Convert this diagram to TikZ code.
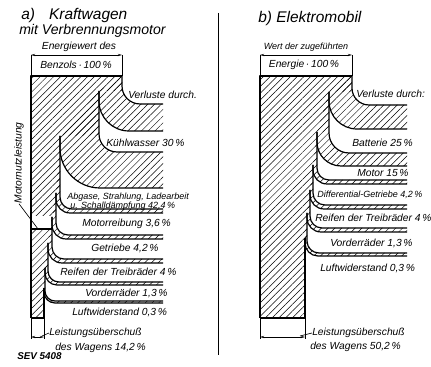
\documentclass[tikz,border=0pt]{standalone}
\usepackage{fontspec}
\setmainfont{Liberation Sans}
\usetikzlibrary{patterns.meta,arrows.meta}
\tikzstyle{diagram} = [x=0.25mm, y=-0.25mm]
\tikzstyle{hatchFill} = [pattern={Lines[angle=45, distance=3.4pt, line width=0.35pt]}]
\tikzstyle{bandLine} = [line width=0.85pt, line join=round]
\tikzstyle{thinLine} = [line width=0.45pt]
\tikzstyle{dimLine} = [line width=0.45pt, {Stealth[length=3pt, width=1.6pt]}-{Stealth[length=3pt, width=1.6pt]}]
\tikzstyle{titleText} = [font=\itshape\fontsize{11}{13}\selectfont, inner sep=0pt, anchor=west]
\tikzstyle{subtitleText} = [font=\itshape\fontsize{10}{11}\selectfont, inner sep=0pt, anchor=west]
\tikzstyle{labelText} = [font=\itshape\fontsize{7.3}{8}\selectfont, inner sep=0pt, anchor=west]
\tikzstyle{smallText} = [font=\itshape\fontsize{6.4}{7}\selectfont, inner sep=0pt, anchor=west]
\tikzstyle{sevText} = [font=\bfseries\itshape\fontsize{7}{8}\selectfont, inner sep=0pt, anchor=west]
\newcommand{\outerEdge}[5]{(#1,#2) -- (#1,#3-#4) .. controls (#1,#3-0.448*#4) and (#1+0.448*#4,#3) .. (#1+#4,#3) -- (#5,#3)}
\newcommand{\lossBand}[9]{
  \fill [hatchFill] \outerEdge{#1}{#2}{#5}{#7}{#9} -- (#9,#6) -- (#3+#8,#6) .. controls (#3+0.448*#8,#6) and (#3,#6-0.448*#8) .. (#3,#6-#8) -- (#3,#4) -- cycle;
  \draw [bandLine] \outerEdge{#1}{#2}{#5}{#7}{#9};
  \draw [bandLine] \outerEdge{#3}{#4}{#6}{#8}{#9};
}

\begin{document}
\begin{tikzpicture}[diagram]
  \useasboundingbox (0,0) rectangle (431,367);

  \fill [hatchFill] (31,76) -- (122,76) -- (122,91) -- (99,91) -- (99,136) -- (60,136) -- (60,193) -- (56,193) -- (56,217) -- (52,217) -- (52,243) -- (48,243) -- (48,268) -- (45,268) -- (45,288) -- (44,288) -- (44,318) -- (31,318) -- cycle;
  \lossBand{122}{76}{99}{91}{104}{131}{18}{30}{163}
  \lossBand{99}{91}{60}{136}{152}{188}{18}{40}{163}
  \lossBand{60}{136}{56}{193}{209}{213}{12}{14}{163}
  \lossBand{56}{193}{52}{217}{235}{239}{12}{14}{163}
  \lossBand{52}{217}{48}{243}{259}{263}{12}{14}{163}
  \lossBand{48}{243}{45}{268}{282}{285}{11}{12}{163}
  \lossBand{45}{268}{44}{288}{301}{303}{10}{11}{163}
  \fill [white] (31.8,216) rectangle (51.2,228.5);
  \draw [bandLine] (31,318) -- (31,76) -- (122,76);
  \draw [bandLine] (44,288) -- (44,318) -- (31,318);
  \draw [bandLine] (31,229) -- (52,229);
  \draw [thinLine] (31,55) -- (31,76) (122,55) -- (122,76);
  \draw [thinLine] (31,318) -- (31,339) (44,318) -- (44,339);
  \draw [dimLine] (31,55) -- (122,55);
  \draw [dimLine] (31,337) -- (44,337);

  \node [titleText] (titleA) at (21,16) {a)\hspace{10pt}Kraftwagen};
  \node [subtitleText] (subA) at (19,31) {mit Verbrennungsmotor};
  \node [labelText, anchor=center] (energyA) at (79,47) {Energiewert des};
  \node [labelText, anchor=center] (benzolA) at (76,65) {Benzols\,·\,100\,\%};
  \node [labelText] (lossA) at (128,95) {Verluste durch.};
  \node [labelText] (coolA) at (106,143) {Kühlwasser 30\,\%};
  \node [smallText] (exhaustA) at (67,197) {Abgase, Strahlung, Ladearbeit};
  \node [smallText] (mufflerA) at (70,206) {u. Schalldämpfung 42,4\,\%};
  \node [labelText] (frictionA) at (82,224) {Motorreibung 3,6\,\%};
  \node [labelText] (gearA) at (91,248) {Getriebe 4,2\,\%};
  \node [labelText] (tyreA) at (60,272) {Reifen der Treibräder 4\,\%};
  \node [labelText] (frontA) at (85,293) {Vorderräder 1,3\,\%};
  \node [labelText] (airA) at (72,312) {Luftwiderstand 0,3\,\%};
  \node [labelText] (surplusA) at (49,333) {Leistungsüberschuß};
  \node [labelText] (wagonA) at (55,348) {des Wagens 14,2\,\%};
  \node [sevText] (sev) at (17,356) {SEV 5408};
  \node [labelText, rotate=90, anchor=center] (motorA) at (19,163) {Motornutzleistung};
  \draw [thinLine] (motorA.west) -- (38,229);
  \draw [thinLine] (42,336) -- (surplusA.west);

  \draw [thinLine] (218,13) -- (218,355);

  \fill [hatchFill] (260,76) -- (352,76) -- (352,92) -- (329,92) -- (329,132) -- (317,132) -- (317,165) -- (313,165) -- (313,190) -- (310,190) -- (310,213) -- (307,213) -- (307,238) -- (305,238) -- (305,318) -- (260,318) -- cycle;
  \lossBand{352}{76}{329}{92}{105}{129}{17}{28}{407}
  \lossBand{329}{92}{317}{132}{153}{166}{20}{24}{407}
  \lossBand{317}{132}{313}{165}{180}{184}{12}{14}{407}
  \lossBand{313}{165}{310}{190}{205}{209}{12}{14}{407}
  \lossBand{310}{190}{307}{213}{228}{232}{12}{14}{407}
  \lossBand{307}{213}{305}{238}{253}{256}{12}{13}{407}
  \draw [bandLine] (260,318) -- (260,76) -- (352,76);
  \draw [bandLine] (305,238) -- (305,318) -- (260,318);
  \draw [thinLine] (260,55) -- (260,76) (352,55) -- (352,76);
  \draw [thinLine] (260,318) -- (260,339) (305,318) -- (305,339);
  \draw [dimLine] (260,55) -- (352,55);
  \draw [dimLine] (260,337) -- (305,337);

  \node [titleText] (titleB) at (258,19) {b) Elektromobil};
  \node [smallText, anchor=center] (valueB) at (306,47) {Wert der zugeführten};
  \node [labelText, anchor=center] (energieB) at (304,65) {Energie\,·\,100\,\%};
  \node [labelText] (lossB) at (356,94) {Verluste durch:};
  \node [labelText] (batteryB) at (352,143) {Batterie 25\,\%};
  \node [labelText] (motorB) at (357,173) {Motor 15\,\%};
  \node [smallText] (diffB) at (317,195) {Differential-Getriebe 4,2\,\%};
  \node [labelText] (tyreB) at (315,218) {Reifen der Treibräder 4\,\%};
  \node [labelText] (frontB) at (330,243) {Vorderräder 1,3\,\%};
  \node [labelText] (airB) at (320,268) {Luftwiderstand 0,3\,\%};
  \node [labelText] (surplusB) at (312,333) {Leistungsüberschuß};
  \node [labelText] (wagonB) at (310,347) {des Wagens 50,2\,\%};
  \draw [thinLine] (300,336) -- (surplusB.west);
\end{tikzpicture}
\end{document}
